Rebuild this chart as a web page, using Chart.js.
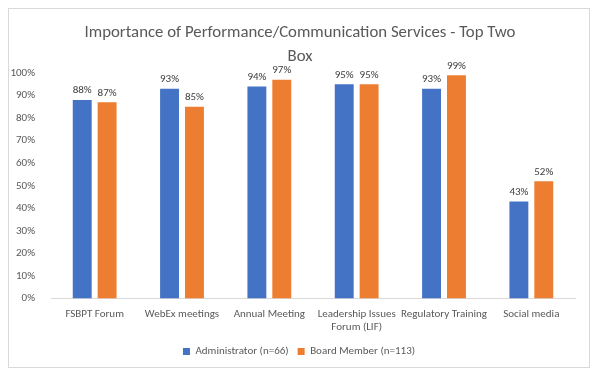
<!DOCTYPE html>
<html>
<head>
<meta charset="utf-8">
<script src="https://cdn.jsdelivr.net/npm/chart.js@4.4.1/dist/chart.umd.min.js"></script>
<style>
  html, body { margin: 0; padding: 0; background: #fff; }
  #frame { position: absolute; left: 8px; top: 8px; width: 582px; height: 360px; border: 1px solid #d9d9d9; box-sizing: border-box; background: #fff; }
  #frame canvas { display: block; }
</style>
</head>
<body>
<div id="frame"><canvas id="c" width="580" height="358"></canvas></div>
<script>
const titleLines = ['Importance of Performance/Communication Services - Top Two', 'Box'];
const categories = ['FSBPT Forum', 'WebEx meetings', 'Annual Meeting', ['Leadership Issues', 'Forum (LIF)'], 'Regulatory Training', 'Social media'];
const seriesNames = ['Administrator (n=66)', 'Board Member (n=113)'];
const administrator = [88, 93, 94, 95, 93, 43];
const boardMember = [87, 85, 97, 95, 99, 52];
const yMax = 100;
const yStep = 10;

const FONT = 'Carlito, Calibri, Lato, "Liberation Sans", sans-serif';
const TEXT = '#595959';

const dataLabels = {
  id: 'dataLabels',
  afterDatasetsDraw(chart) {
    const ctx = chart.ctx;
    ctx.save();
    ctx.font = '11px ' + FONT;
    ctx.fillStyle = '#404040';
    ctx.textAlign = 'center';
    ctx.textBaseline = 'bottom';
    chart.data.datasets.forEach((ds, i) => {
      chart.getDatasetMeta(i).data.forEach((bar, j) => {
        ctx.fillText(ds.data[j] + '%', bar.x, bar.y - 4);
      });
    });
    ctx.restore();
  }
};

const centeredTitle = {
  id: 'centeredTitle',
  afterDraw(chart) {
    const ctx = chart.ctx;
    ctx.save();
    ctx.font = '16.8px ' + FONT;
    ctx.fillStyle = TEXT;
    ctx.textAlign = 'center';
    ctx.textBaseline = 'middle';
    titleLines.forEach((t, i) => ctx.fillText(t, chart.width / 2 + 1, 24 + i * 24));
    ctx.restore();
  }
};

new Chart(document.getElementById('c'), {
  type: 'bar',
  data: {
    labels: categories,
    datasets: [
      { label: seriesNames[0], data: administrator, backgroundColor: '#4472C4' },
      { label: seriesNames[1], data: boardMember, backgroundColor: '#ED7D31' }
    ]
  },
  options: {
    responsive: false,
    animation: false,
    layout: { padding: { left: 0, right: 0, top: 64, bottom: 0 } },
    datasets: { bar: { categoryPercentage: 0.57, barPercentage: 0.76 } },
    scales: {
      x: {
        grid: { display: false, drawTicks: false },
        border: { display: true, color: '#d9d9d9' },
        ticks: { color: TEXT, font: { family: FONT, size: 11 }, maxRotation: 0, autoSkip: false, padding: 9 },
        afterFit(s) { s.height -= 6; }
      },
      y: {
        min: 0, max: yMax,
        grid: { display: false },
        border: { display: false },
        ticks: { stepSize: yStep, color: TEXT, font: { family: FONT, size: 11 }, padding: 8, callback: v => v + '%' },
        afterFit(s) { s.width = 42; }
      },
      yr: {
        position: 'right',
        display: true,
        min: 0, max: 1,
        grid: { display: false },
        border: { display: false },
        ticks: { display: false },
        afterFit(s) { s.width = 14; }
      }
    },
    plugins: {
      title: { display: false },
      legend: {
        position: 'bottom',
        labels: { color: TEXT, font: { family: FONT, size: 11 }, boxWidth: 7, boxHeight: 7, padding: 9 }
      },
      tooltip: { enabled: false }
    }
  },
  plugins: [dataLabels, centeredTitle]
});
</script>
</body>
</html>
